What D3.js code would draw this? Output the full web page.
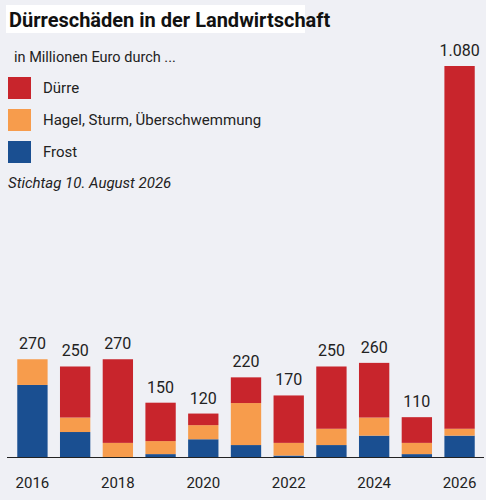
<!DOCTYPE html><html><head><meta charset="utf-8"><script src="https://cdn.jsdelivr.net/npm/d3@7"></script>
<style>body{margin:0;background:#eff0f5}svg{display:block}</style></head><body><svg id="c" width="486" height="500"></svg>
<script>
const years=[2016,2017,2018,2019,2020,2021,2022,2023,2024,2025,2026];
const frost=[199,69,0,8,49,33,4,33,59,8,59];
const hagel=[71,40,39,36,39,116,35,45,50,31,19];
const duerre=[0,141,231,106,32,71,131,172,151,71,1002];
const totals=["270","250","270","150","120","220","170","250","260","110","1.080"];
const tickYears=[2016,2018,2020,2022,2024,2026];
const colors={frost:"#1a4f91",hagel:"#f79c4c",duerre:"#c8252c"};
const svg=d3.select("#c"),F="Roboto, sans-serif";
const x=d3.scaleBand().domain(years).range([13,479]).paddingInner(0.29).paddingOuter(0.1);
const y=d3.scaleLinear().domain([0,1080]).range([457,66]);
const data=years.map((yr,i)=>({year:yr,frost:frost[i],hagel:hagel[i],duerre:duerre[i]}));
const stack=d3.stack().keys(["frost","hagel","duerre"])(data);
svg.append("g").selectAll("g").data(stack).join("g").attr("fill",d=>colors[d.key])
 .selectAll("rect").data(d=>d).join("rect").attr("x",d=>x(d.data.year)).attr("width",x.bandwidth())
 .attr("y",d=>y(d[1])).attr("height",d=>y(d[0])-y(d[1]));
svg.append("g").selectAll("text").data(data).join("text").attr("x",d=>x(d.year)+x.bandwidth()/2)
 .attr("y",(d,i)=>y(d.frost+d.hagel+d.duerre)-10).attr("text-anchor","middle").attr("font-family",F).attr("font-size",16).attr("fill","#222")
 .text((d,i)=>totals[i]);
svg.append("line").attr("x1",7).attr("x2",484).attr("y1",457.5).attr("y2",457.5).attr("stroke","#222").attr("stroke-width",1.2);
svg.append("g").selectAll("text").data(tickYears).join("text").attr("x",d=>x(d)+x.bandwidth()/2).attr("y",488)
 .attr("text-anchor","middle").attr("font-family",F).attr("font-size",15).attr("fill","#222").text(d=>d);
svg.append("rect").attr("x",6).attr("y",5).attr("width",299).attr("height",28).attr("fill","#fff");
svg.append("text").attr("x",9).attr("y",27).attr("font-family",F).attr("font-weight","bold").attr("font-size",20).attr("fill","#111").text("Dürreschäden in der Landwirtschaft");
svg.append("text").attr("x",14).attr("y",62).attr("font-family",F).attr("font-size",14.5).attr("fill","#222").text("in Millionen Euro durch ...");
const leg=[["Dürre","duerre"],["Hagel, Sturm, Überschwemmung","hagel"],["Frost","frost"]];
leg.forEach((l,i)=>{const yy=77+i*32;
 svg.append("rect").attr("x",8).attr("y",yy).attr("width",23).attr("height",22).attr("fill",colors[l[1]]);
 svg.append("text").attr("x",43).attr("y",yy+16).attr("font-family",F).attr("font-size",15).attr("fill","#222").text(l[0]);});
svg.append("text").attr("x",8).attr("y",188).attr("font-family",F).attr("font-style","italic").attr("font-size",15).attr("fill","#222").text("Stichtag 10. August 2026");
</script></body></html>
